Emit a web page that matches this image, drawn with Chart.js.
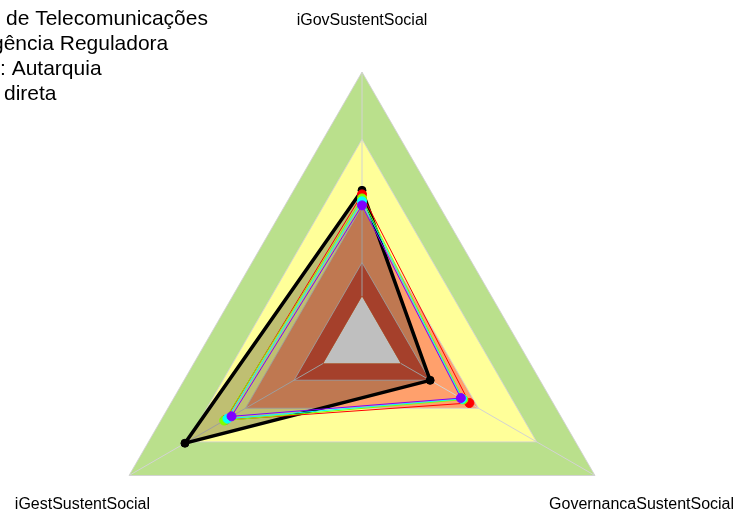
<!DOCTYPE html>
<html>
<head>
<meta charset="utf-8">
<script src="https://cdn.jsdelivr.net/npm/chart.js@4"></script>
<style>
  html, body { margin: 0; background: #fff; overflow: hidden; }
  #wrap { width: 738px; height: 513px; overflow: hidden; }
  canvas { display: block; }
</style>
</head>
<body>
<!-- canvas is taller than the window: the plot runs past the bottom edge like the original -->
<div id="wrap"><canvas id="canvas" width="738" height="610"></canvas></div>
<script>
// axes, clockwise from the top
let labels = ['iGovSustentSocial', 'GovernancaSustentSocial', 'iGestSustentSocial'];

// background bands (inexpressivo / iniciando / intermediario / aprimorado)
let bandLevels = [1.0, 0.7, 0.4, 0.15];
let bandColors = ['rgb(186,224,140)', 'rgb(255,255,153)', 'rgb(255,160,108)', 'rgb(220,86,58)'];

// series values, same order as labels
let serieBlack  = [0.472, 0.151, 0.712];
let serieRed    = [0.454, 0.353, 0.505];
let serieGreen  = [0.436, 0.322, 0.510];
let serieCyan   = [0.423, 0.316, 0.493];
let seriePurple = [0.405, 0.309, 0.472];

let titleLines = ['de Telecomunicações', 'gência Reguladora', ': Autarquia', 'direta'];

let datasets = [];

// bands, outer one drawn first
bandLevels.forEach((lvl, i) => {
  datasets.push({
    data: labels.map(() => lvl),
    backgroundColor: bandColors[i],
    borderColor: 'rgba(210,210,210,0.9)',
    borderWidth: 1,
    pointRadius: 0,
    fill: { value: 0 },
    order: 10 - i
  });
});

datasets.push({
  data: serieBlack,
  borderColor: '#000',
  backgroundColor: 'rgba(0,0,0,0.25)',
  borderWidth: 3.5,
  pointRadius: 4,
  pointBackgroundColor: '#000',
  pointBorderColor: '#000',
  pointBorderWidth: 1,
  fill: 'start',
  order: 5
});

let lineSeries = [
  [serieRed, '#FF0000', 4],
  [serieGreen, '#80FF00', 3],
  [serieCyan, '#00FFFF', 2],
  [seriePurple, '#8000FF', 1]
];
lineSeries.forEach(s => {
  datasets.push({
    data: s[0],
    borderColor: s[1],
    borderWidth: 1,
    pointRadius: 4.5,
    pointBackgroundColor: s[1],
    pointBorderColor: s[1],
    pointBorderWidth: 1,
    fill: false,
    order: s[2]
  });
});

// axis lines just above the bands, labels and the clipped title on top
let extras = {
  id: 'extras',
  afterDatasetDraw(chart, args) {
    if (args.index !== bandLevels.length - 1) return;
    let r = chart.scales.r, ctx = chart.ctx;
    ctx.save();
    ctx.strokeStyle = 'rgb(211,211,211)';
    ctx.lineWidth = 1;
    labels.forEach((l, i) => {
      let a = r.getPointPositionForValue(i, 0);
      let b = r.getPointPositionForValue(i, 1);
      ctx.beginPath();
      ctx.moveTo(a.x, a.y);
      ctx.lineTo(b.x, b.y);
      ctx.stroke();
    });
    ctx.restore();
  },
  afterDraw(chart) {
    let r = chart.scales.r, ctx = chart.ctx;
    ctx.save();
    ctx.fillStyle = '#000';
    ctx.font = '16px "Liberation Sans", Arial, sans-serif';
    ctx.textAlign = 'center';
    ctx.textBaseline = 'middle';
    labels.forEach((l, i) => {
      let p = r.getPointPositionForValue(i, 1.24);
      ctx.fillText(l, p.x, p.y + 2.5);
    });
    ctx.font = '21px "Liberation Sans", Arial, sans-serif';
    ctx.textAlign = 'left';
    ctx.textBaseline = 'alphabetic';
    let xs = [6, -8, 0, 4];
    titleLines.forEach((t, i) => ctx.fillText(t, xs[i], 25 + i * 25));
    ctx.restore();
  }
};

let chart = new Chart(document.getElementById('canvas'), {
  type: 'radar',
  data: { labels: labels, datasets: datasets },
  options: {
    responsive: false,
    animation: false,
    layout: { padding: { left: 93, right: 107, top: 72, bottom: 0 } },
    elements: { line: { tension: 0 } },
    plugins: { legend: { display: false }, tooltip: { enabled: false }, title: { display: false } },
    scales: {
      r: {
        min: -0.2,
        max: 1,
        ticks: { display: false },
        grid: { display: false },
        angleLines: { display: false },
        pointLabels: { display: false }
      }
    }
  },
  plugins: [extras]
});
</script>
</body>
</html>
